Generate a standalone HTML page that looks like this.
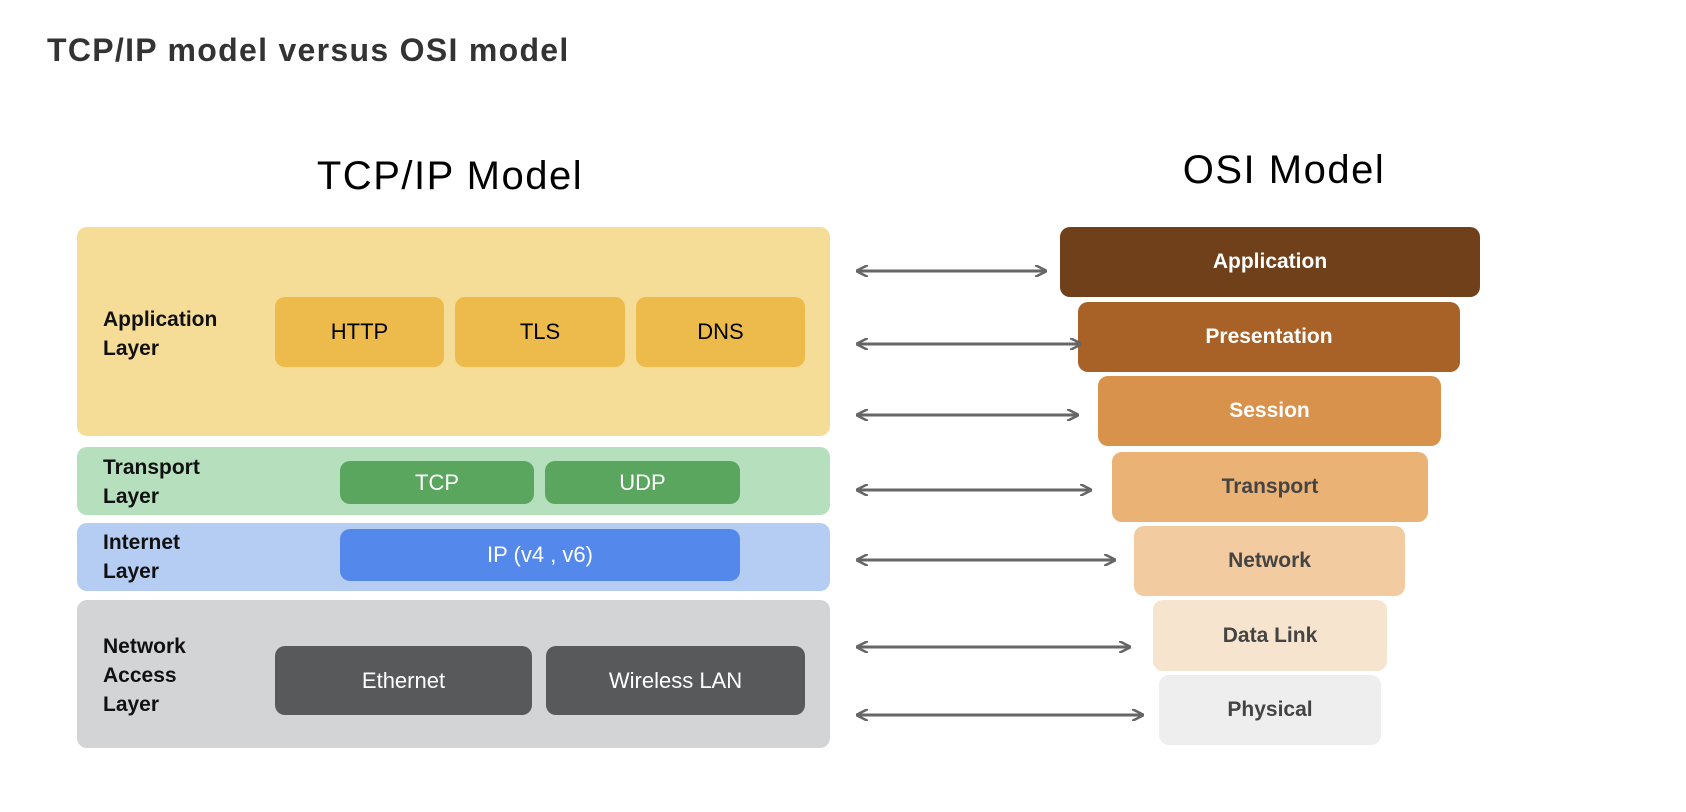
<!DOCTYPE html>
<html><head><meta charset="utf-8"><style>
body{margin:0;width:1686px;height:812px;background:#fff;position:relative;overflow:hidden;font-family:"Liberation Sans",sans-serif}
.a{position:absolute;box-sizing:border-box}
.r{border-radius:10px;display:flex;align-items:center;justify-content:center}
.lbl{position:absolute;font-weight:bold;font-size:21px;line-height:29px;color:#111}
.p{font-size:22px}
.o{font-size:21px;font-weight:bold}
</style></head><body>
<div class="a" style="left:47px;top:32px;font-size:32px;font-weight:bold;letter-spacing:1.3px;color:#333">TCP/IP model versus OSI model</div>
<div class="a" style="left:250px;top:154px;width:400px;text-align:center;font-size:40px;letter-spacing:1.5px;color:#000">TCP/IP Model</div>
<div class="a" style="left:1084px;top:148px;width:400px;text-align:center;font-size:40px;letter-spacing:1.5px;color:#000">OSI Model</div>

<div class="a r" style="left:77px;top:227px;width:753px;height:209px;background:#f5dd98"></div>
<div class="lbl" style="left:103px;top:305px">Application<br>Layer</div>
<div class="a r p" style="left:275px;top:297px;width:169px;height:70px;background:#ecbb4c">HTTP</div>
<div class="a r p" style="left:455px;top:297px;width:170px;height:70px;background:#ecbb4c">TLS</div>
<div class="a r p" style="left:636px;top:297px;width:169px;height:70px;background:#ecbb4c">DNS</div>

<div class="a r" style="left:77px;top:447px;width:753px;height:68px;background:#b5dfbd"></div>
<div class="lbl" style="left:103px;top:453px">Transport<br>Layer</div>
<div class="a r p" style="left:340px;top:461px;width:194px;height:43px;background:#5aa65f;color:#fff">TCP</div>
<div class="a r p" style="left:545px;top:461px;width:195px;height:43px;background:#5aa65f;color:#fff">UDP</div>

<div class="a r" style="left:77px;top:523px;width:753px;height:68px;background:#b5cdf3"></div>
<div class="lbl" style="left:103px;top:528px">Internet<br>Layer</div>
<div class="a r p" style="left:340px;top:529px;width:400px;height:52px;background:#5489eb;color:#fff">IP (v4 , v6)</div>

<div class="a r" style="left:77px;top:600px;width:753px;height:148px;background:#d3d4d6"></div>
<div class="lbl" style="left:103px;top:632px">Network<br>Access<br>Layer</div>
<div class="a r p" style="left:275px;top:646px;width:257px;height:69px;background:#58595b;color:#fff">Ethernet</div>
<div class="a r p" style="left:546px;top:646px;width:259px;height:69px;background:#58595b;color:#fff">Wireless LAN</div>

<div class="a r o" style="left:1060px;top:227px;width:420px;height:70px;background:#6f4019;color:#fff">Application</div>
<div class="a r o" style="left:1078px;top:302px;width:382px;height:70px;background:#a86126;color:#fff">Presentation</div>
<div class="a r o" style="left:1098px;top:376px;width:343px;height:70px;background:#d9924c;color:#fff">Session</div>
<div class="a r o" style="left:1112px;top:452px;width:316px;height:70px;background:#eab275;color:#444">Transport</div>
<div class="a r o" style="left:1134px;top:526px;width:271px;height:70px;background:#f2cba0;color:#444">Network</div>
<div class="a r o" style="left:1153px;top:600px;width:234px;height:71px;background:#f7e4cf;color:#444">Data Link</div>
<div class="a r o" style="left:1159px;top:675px;width:222px;height:70px;background:#eeeeee;color:#444">Physical</div>

<svg class="a" style="left:0;top:0" width="1686" height="812">
<defs><marker id="m" viewBox="0 0 12 12" refX="11" refY="6" markerWidth="12" markerHeight="12" markerUnits="userSpaceOnUse" orient="auto-start-reverse"><path d="M0,0 L12,6 L0,12" fill="none" stroke="#666" stroke-width="2.5"/></marker></defs>
<g stroke="#666" stroke-width="3" marker-start="url(#m)" marker-end="url(#m)">
<line x1="857" y1="271" x2="1046" y2="271"/>
<line x1="857" y1="344" x2="1081" y2="344"/>
<line x1="857" y1="415" x2="1078" y2="415"/>
<line x1="857" y1="490" x2="1091" y2="490"/>
<line x1="857" y1="560" x2="1115" y2="560"/>
<line x1="857" y1="647" x2="1130" y2="647"/>
<line x1="857" y1="715" x2="1143" y2="715"/>
</g></svg>
</body></html>
